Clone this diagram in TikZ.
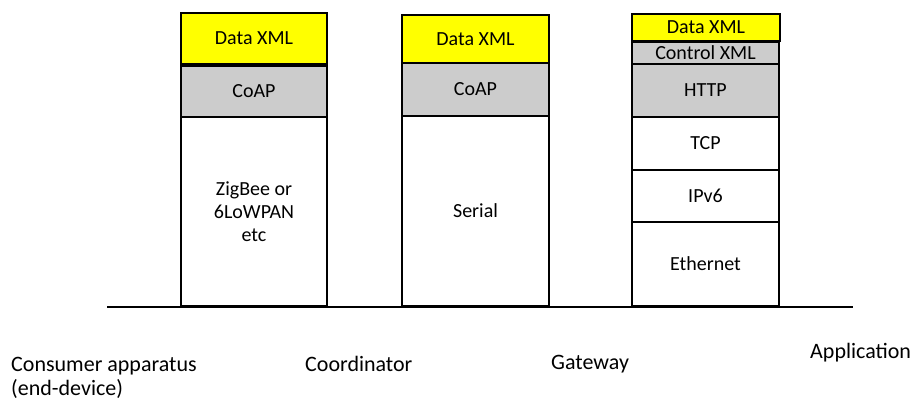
\documentclass[tikz,border=0pt]{standalone}
\usepackage{fontspec}
\setmainfont{Carlito}
\definecolor{xmlyellow}{RGB}{255,255,0}
\definecolor{layergray}{RGB}{204,204,204}
\begin{document}
\begin{tikzpicture}[x=1pt,y=-1pt,
  layer/.style={draw, line width=1.5pt, inner sep=0pt, outer sep=0pt,
    anchor=north west, align=center, minimum width=146pt,
    font=\fontsize{20}{23}\selectfont},
  xml/.style={layer, fill=xmlyellow},
  proto/.style={layer, fill=layergray},
  plain/.style={layer, fill=white},
  label/.style={anchor=base west, inner sep=0pt, font=\fontsize{22}{26}\selectfont},
  bus/.style={line width=1.4pt}]
\useasboundingbox (0,0) rectangle (912,402);

% shared medium
\coordinate (busL) at (107,307);
\coordinate (busR) at (853,307);
\draw[bus] (busL) -- (busR);

% end-device stack
\node[xml,   minimum height=51pt]  (d1) at (181,13)  {Data XML};
\node[proto, minimum height=51pt]  (c1) at (181,66)  {CoAP};
\node[plain, minimum height=189pt] (z1) at (181,117) {ZigBee or\\6LoWPAN\\etc};

% coordinator stack
\node[xml,   minimum height=48pt, minimum width=147pt]  (d2) at (402,15)  {Data XML};
\node[proto, minimum height=53pt, minimum width=147pt]  (c2) at (402,63)  {CoAP};
\node[plain, minimum height=190pt, minimum width=147pt] (s2) at (402,116) {Serial};

% gateway stack
\node[xml,   minimum height=27pt, minimum width=148pt] (d3) at (632,14)  {Data XML};
\node[proto, minimum height=22pt, minimum width=147pt] (x3) at (632,42)  {Control XML};
\node[proto, minimum height=53pt, minimum width=147pt] (h3) at (632,64)  {HTTP};
\node[plain, minimum height=53pt, minimum width=147pt] (t3) at (632,117) {TCP};
\node[plain, minimum height=52pt, minimum width=147pt] (i3) at (632,170) {IPv6};
\node[plain, minimum height=84pt, minimum width=147pt] (e3) at (632,222) {Ethernet};

% role captions
\node[label] (lab1a) at (11,371)  {Consumer apparatus};
\node[label] (lab1b) at (11,395)  {(end-device)};
\node[label] (lab2)  at (305,371) {Coordinator};
\node[label] (lab3)  at (551,369) {Gateway};
\node[label] (lab4)  at (810,358) {Application};
\end{tikzpicture}
\end{document}
